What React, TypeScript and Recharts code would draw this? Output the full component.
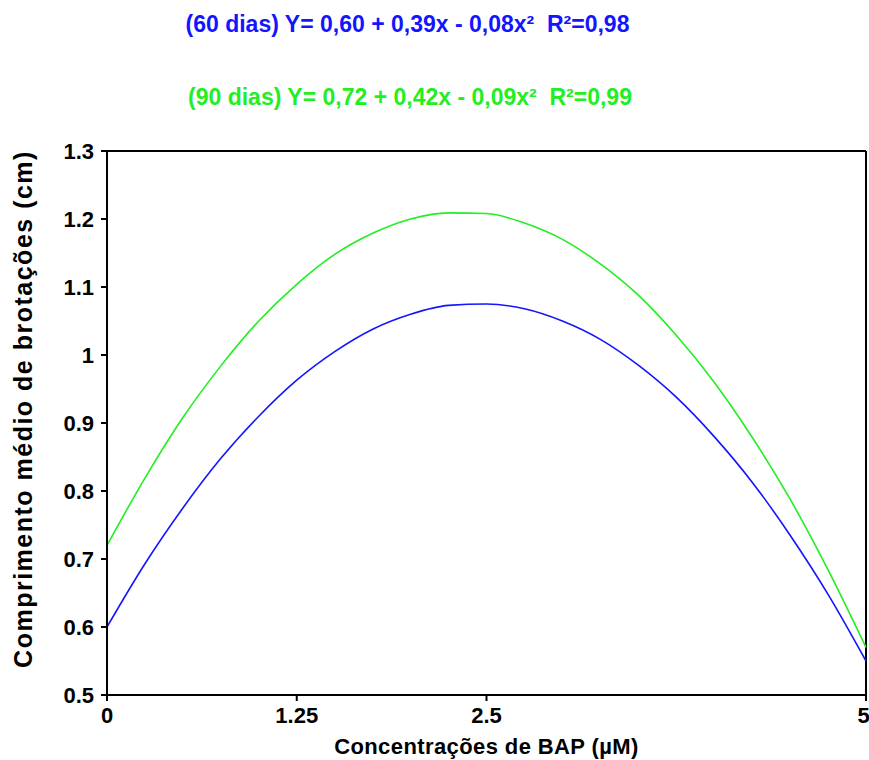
import React from "react";
import { LineChart, Line, XAxis, YAxis, ReferenceLine } from "recharts";

const concentrations = [0, 0.25, 0.5, 0.75, 1, 1.25, 1.5, 1.75, 2, 2.25, 2.5, 2.75, 3, 3.25, 3.5, 3.75, 4, 4.25, 4.5, 4.75, 5];
const dias60 = [0.6, 0.693, 0.775, 0.848, 0.91, 0.963, 1.005, 1.038, 1.06, 1.073, 1.075, 1.068, 1.05, 1.023, 0.985, 0.938, 0.88, 0.813, 0.735, 0.648, 0.55];
const dias90 = [0.72, 0.819, 0.908, 0.984, 1.05, 1.104, 1.148, 1.179, 1.2, 1.209, 1.208, 1.194, 1.17, 1.134, 1.088, 1.029, 0.96, 0.879, 0.788, 0.684, 0.57];
const xTicks = [0, 1.25, 2.5, 5];
const yTicks = [0.5, 0.6, 0.7, 0.8, 0.9, 1, 1.1, 1.2, 1.3];

const title60 = "(60 dias) Y= 0,60 + 0,39x - 0,08x\u00B2\u00A0\u00A0R\u00B2=0,98";
const title90 = "(90 dias) Y= 0,72 + 0,42x - 0,09x\u00B2\u00A0\u00A0R\u00B2=0,99";
const xLabel = "Concentrações de BAP (µM)";
const yLabel = "Comprimento médio de brotações (cm)";

const data = concentrations.map((x, i) => ({ x, d60: dias60[i], d90: dias90[i] }));

const FONT = "'Liberation Sans', Arial, sans-serif";
const BLUE = "#1414ff";
const GREEN = "#22ee22";

export default function App() {
  return (
    <div style={{ position: "absolute", left: 0, top: 0, width: 869, height: 760, background: "#fff" }}>
      <div style={{ position: "absolute", left: 0, width: 815, top: 13, lineHeight: "23px", textAlign: "center", fontFamily: FONT, fontWeight: "bold", fontSize: 23, color: BLUE, whiteSpace: "pre" }}>
        {title60}
      </div>
      <div style={{ position: "absolute", left: 0, width: 820, top: 86, lineHeight: "23px", textAlign: "center", fontFamily: FONT, fontWeight: "bold", fontSize: 23, color: GREEN, whiteSpace: "pre" }}>
        {title90}
      </div>
      <LineChart width={869} height={760} data={data} margin={{ top: 151, right: 3, bottom: 5, left: 7 }}>
        <XAxis
          dataKey="x"
          type="number"
          domain={[0, 5]}
          ticks={xTicks}
          stroke="#000"
          strokeWidth={2}
          tickSize={6}
          tickMargin={6}
          height={60}
          tick={{ fill: "#000", fontSize: 22, fontWeight: "bold", fontFamily: FONT }}
          label={{ value: xLabel, position: "insideBottom", offset: 1, fill: "#000", fontSize: 22, fontWeight: "bold", fontFamily: FONT, letterSpacing: 0.4 }}
        />
        <YAxis
          type="number"
          domain={[0.5, 1.3]}
          ticks={yTicks}
          stroke="#000"
          strokeWidth={2}
          tickSize={6}
          tickMargin={7}
          width={100}
          tick={{ fill: "#000", fontSize: 22, fontWeight: "bold", fontFamily: FONT }}
          label={{
            value: yLabel,
            content: () => (
              <text
                x={23}
                y={409}
                transform="rotate(-90 23 409)"
                textAnchor="middle"
                dominantBaseline="central"
                fill="#000"
                fontSize={25}
                fontWeight="bold"
                letterSpacing={1.5}
                fontFamily={FONT}
              >
                {yLabel}
              </text>
            ),
          }}
        />
        <ReferenceLine y={1.3} stroke="#000" strokeWidth={2} />
        <ReferenceLine x={5} stroke="#000" strokeWidth={2} />
        <Line type="monotone" dataKey="d60" stroke={BLUE} strokeWidth={1.6} dot={false} isAnimationActive={false} />
        <Line type="monotone" dataKey="d90" stroke={GREEN} strokeWidth={1.6} dot={false} isAnimationActive={false} />
      </LineChart>
    </div>
  );
}
